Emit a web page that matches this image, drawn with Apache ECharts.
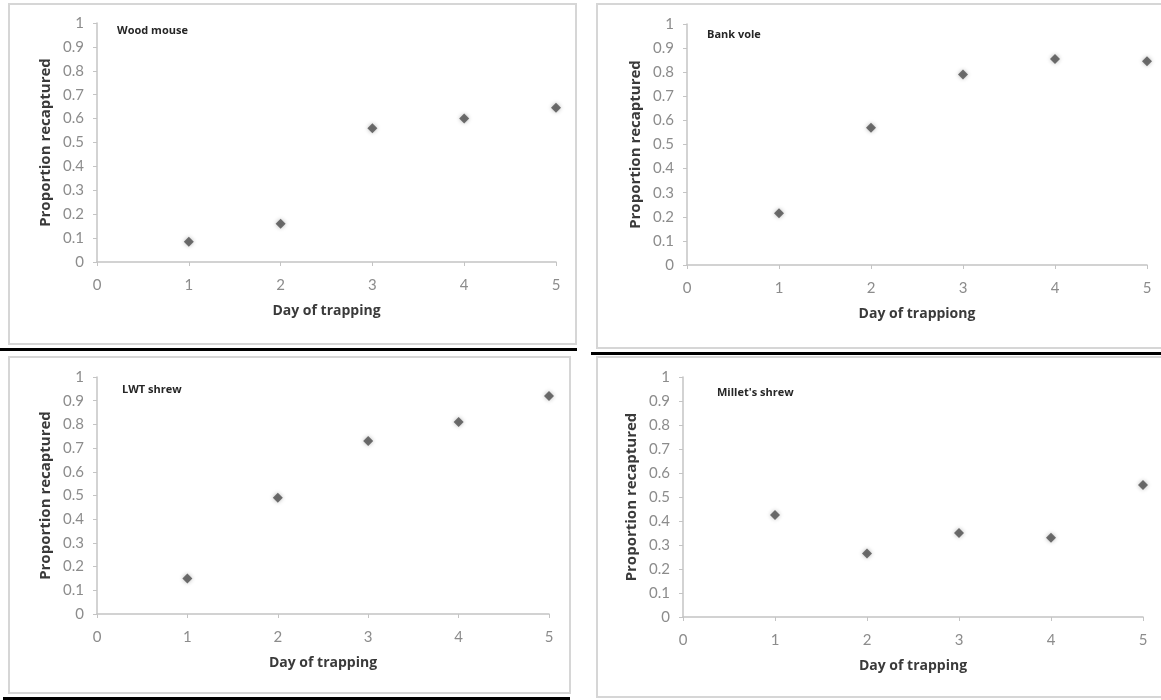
<!DOCTYPE html>
<html>
<head>
<meta charset="utf-8">
<script src="https://cdn.jsdelivr.net/npm/echarts@6/dist/echarts.min.js"></script>
<style>html,body{margin:0;padding:0;background:#fff;}#c{width:1161px;height:700px;}</style>
</head>
<body>
<div id="c"></div>
<script>
const days = [1, 2, 3, 4, 5];
const panelTitles = ['Wood mouse', 'Bank vole', 'LWT shrew', "Millet's shrew"];
const xAxisNames = ['Day of trapping', 'Day of trappiong', 'Day of trapping', 'Day of trapping'];
const yAxisName = 'Proportion recaptured';
const woodMouse = [0.085, 0.16, 0.56, 0.60, 0.645];
const bankVole = [0.215, 0.57, 0.79, 0.855, 0.845];
const lwtShrew = [0.15, 0.49, 0.73, 0.81, 0.92];
const milletsShrew = [0.425, 0.265, 0.35, 0.33, 0.55];
const seriesValues = [woodMouse, bankVole, lwtShrew, milletsShrew];

// layout
const grids = [
  {left: 97, top: 23, width: 459, height: 239},
  {left: 687, top: 24, width: 460, height: 241},
  {left: 97, top: 377, width: 452, height: 237},
  {left: 683, top: 377, width: 460, height: 240}
];
const titlePos = [[117, 31], [707, 35], [122, 390], [717, 393]];
const frames = [
  {x: 9, y: 4, w: 567, h: 340},
  {x: 597, y: 4, w: 570, h: 344},
  {x: 9, y: 357, w: 561, h: 336},
  {x: 597, y: 357, w: 570, h: 340}
];
const blackLines = [
  {x: 0, y: 348, w: 577},
  {x: 591, y: 352, w: 570},
  {x: 3, y: 697, w: 567}
];

const labelColor = '#8c8c8c';
const axisColor = '#c4c4c4';
const font = 'Lato, "Open Sans", sans-serif';

const option = {
  backgroundColor: '#fff',
  animation: false,
  grid: grids.map(g => Object.assign({containLabel: false}, g)),
  xAxis: grids.map((g, i) => ({
    gridIndex: i, type: 'value', min: 0, max: 5, interval: 1,
    name: xAxisNames[i], nameLocation: 'middle', nameGap: 42,
    nameTextStyle: {fontFamily: '"Open Sans", sans-serif', fontWeight: 'bold', fontSize: 14, color: '#3a3a3a'},
    axisLine: {show: true, lineStyle: {color: axisColor, width: 1.5}},
    axisTick: {show: true, inside: false, length: 4, lineStyle: {color: axisColor}},
    axisLabel: {color: labelColor, fontSize: 15, fontFamily: font, margin: 16},
    splitLine: {show: false}
  })),
  yAxis: grids.map((g, i) => ({
    gridIndex: i, type: 'value', min: 0, max: 1, interval: 0.1,
    name: yAxisName, nameLocation: 'middle', nameGap: 44, nameRotate: 90,
    nameTextStyle: {fontFamily: '"Open Sans", sans-serif', fontWeight: 'bold', fontSize: 15, color: '#3a3a3a'},
    axisLine: {show: true, lineStyle: {color: axisColor, width: 1.5}},
    axisTick: {show: true, inside: false, length: 4, lineStyle: {color: axisColor}},
    axisLabel: {color: labelColor, fontSize: 15, fontFamily: font, margin: 13,
      formatter: v => String(Math.round(v * 10) / 10)},
    splitLine: {show: false}
  })),
  series: seriesValues.map((vals, i) => ({
    type: 'scatter', xAxisIndex: i, yAxisIndex: i,
    symbol: 'diamond', symbolSize: 10,
    itemStyle: {color: '#4d4d4d', shadowBlur: 4, shadowColor: 'rgba(0,0,0,0.35)'},
    data: days.map((d, k) => [d, vals[k]])
  })),
  graphic: [
    ...frames.map(f => ({type: 'rect', silent: true, z: -1,
      shape: {x: f.x, y: f.y, width: f.w, height: f.h},
      style: {fill: 'none', stroke: '#d6d6d6', lineWidth: 2}})),
    ...blackLines.map(l => ({type: 'rect', silent: true,
      shape: {x: l.x, y: l.y, width: l.w, height: 3},
      style: {fill: '#000'}})),
    ...panelTitles.map((t, i) => ({type: 'text', silent: true,
      x: titlePos[i][0], y: titlePos[i][1],
      style: {text: t, fill: '#262626', font: 'bold 11px "Open Sans", sans-serif', textVerticalAlign: 'middle'}}))
  ]
};

const chart = echarts.init(document.getElementById('c'), null, {renderer: 'canvas'});
chart.setOption(option);
</script>
</body>
</html>
